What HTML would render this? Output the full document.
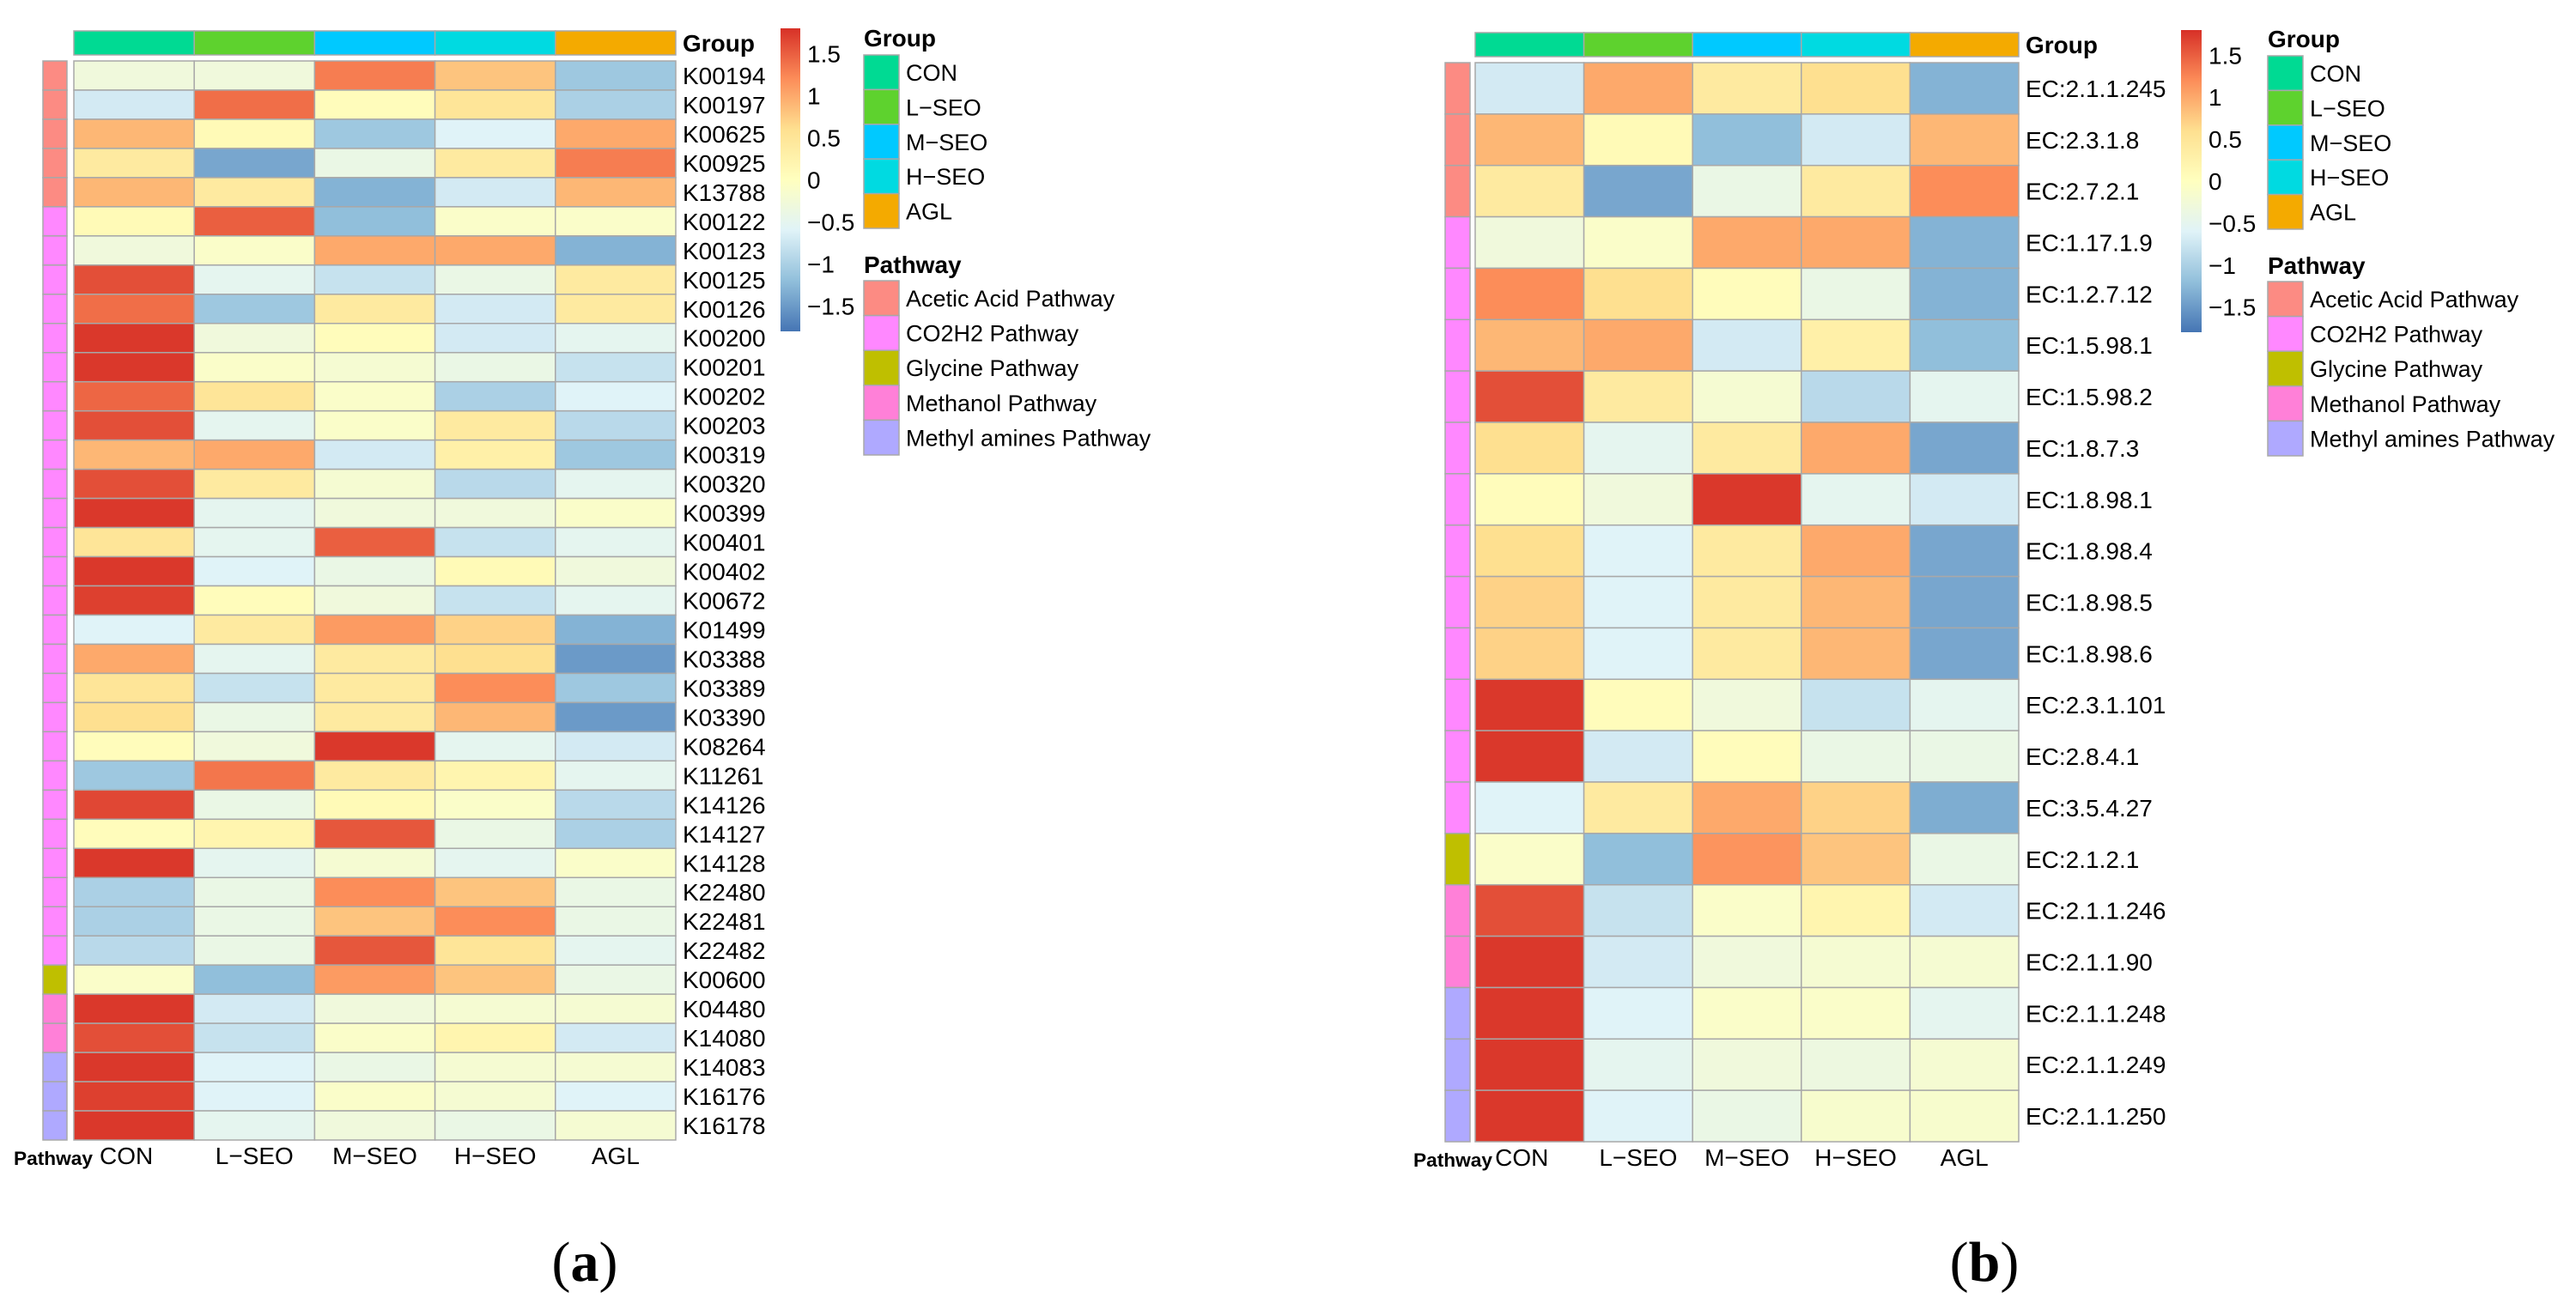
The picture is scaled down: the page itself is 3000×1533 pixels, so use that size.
<!DOCTYPE html>
<html><head><meta charset="utf-8"><style>
html,body{margin:0;padding:0;background:#fff;}
svg{display:block;font-family:"Liberation Sans",sans-serif;}
</style></head><body>
<svg id="fig" width="3000" height="1533" viewBox="0 0 3000 1533" xmlns="http://www.w3.org/2000/svg">
<defs>
<linearGradient id="cbar" x1="0" y1="1" x2="0" y2="0">
<stop offset="0" stop-color="#4575B4"/><stop offset="0.1667" stop-color="#91BFDB"/><stop offset="0.3333" stop-color="#E0F3F8"/><stop offset="0.5" stop-color="#FFFFBF"/><stop offset="0.6667" stop-color="#FEE090"/><stop offset="0.8333" stop-color="#FC8D59"/><stop offset="1" stop-color="#D73027"/>
</linearGradient>
</defs>
<text x="681" y="1492" text-anchor="middle" font-family="Liberation Serif,serif" font-size="66">(<tspan font-weight="bold">a</tspan>)</text>
<text x="2311" y="1492" text-anchor="middle" font-family="Liberation Serif,serif" font-size="66">(<tspan font-weight="bold">b</tspan>)</text>
</svg>
<script>
const groups = ["CON","L-SEO","M-SEO","H-SEO","AGL"];
const groupColors = ["#00DA93","#5ED22E","#00C9FF","#00DAE1","#F4AA00"];
const pathways = ["Acetic Acid Pathway","CO2H2 Pathway","Glycine Pathway","Methanol Pathway","Methyl amines Pathway"];
const pathwayColors = ["#FC8B83","#FF88FF","#BFBF00","#FF80D8","#AFA9FF"];
const colorTicks = [1.5,1,0.5,0,-0.5,-1,-1.5];

const rowsA = ["K00194","K00197","K00625","K00925","K13788","K00122","K00123","K00125","K00126","K00200","K00201","K00202","K00203","K00319","K00320","K00399","K00401","K00402","K00672","K01499","K03388","K03389","K03390","K08264","K11261","K14126","K14127","K14128","K22480","K22481","K22482","K00600","K04480","K14080","K14083","K16176","K16178"];
const pathA = [0,0,0,0,0,1,1,1,1,1,1,1,1,1,1,1,1,1,1,1,1,1,1,1,1,1,1,1,1,1,1,2,3,3,4,4,4];
const valuesA = [
[-0.3,-0.3,1.3,0.8,-1.1],[-0.7,1.4,0.05,0.5,-1.0],[0.9,0.1,-1.1,-0.6,1.0],[0.4,-1.4,-0.4,0.4,1.3],[0.9,0.4,-1.3,-0.7,0.9],
[0.1,1.5,-1.2,-0.1,-0.1],[-0.3,-0.1,1.0,1.0,-1.3],[1.6,-0.5,-0.8,-0.4,0.4],[1.4,-1.1,0.4,-0.7,0.4],[1.75,-0.3,0.05,-0.7,-0.5],
[1.75,-0.1,-0.2,-0.4,-0.8],[1.45,0.5,-0.1,-1.0,-0.6],[1.6,-0.5,-0.1,0.4,-0.9],[0.9,1.0,-0.7,0.3,-1.1],[1.6,0.4,-0.2,-0.9,-0.5],
[1.75,-0.5,-0.3,-0.3,-0.1],[0.5,-0.5,1.5,-0.8,-0.5],[1.75,-0.6,-0.4,0.1,-0.3],[1.7,0.05,-0.3,-0.8,-0.5],[-0.6,0.4,1.1,0.7,-1.3],
[1.0,-0.5,0.4,0.6,-1.5],[0.5,-0.8,0.4,1.2,-1.1],[0.6,-0.4,0.4,0.9,-1.5],[0.05,-0.3,1.75,-0.5,-0.7],[-1.1,1.35,0.4,0.2,-0.5],
[1.65,-0.4,0.1,-0.1,-0.9],[0.05,0.2,1.55,-0.4,-1.0],[1.75,-0.5,-0.2,-0.5,-0.1],[-1.0,-0.4,1.2,0.8,-0.4],[-1.0,-0.4,0.8,1.2,-0.4],
[-0.9,-0.4,1.55,0.5,-0.5],[-0.1,-1.2,1.1,0.8,-0.4],[1.75,-0.7,-0.3,-0.2,-0.2],[1.6,-0.8,-0.1,0.2,-0.7],[1.75,-0.6,-0.4,-0.2,-0.2],
[1.7,-0.6,-0.1,-0.2,-0.6],[1.75,-0.5,-0.3,-0.4,-0.2]];

const rowsB = ["EC:2.1.1.245","EC:2.3.1.8","EC:2.7.2.1","EC:1.17.1.9","EC:1.2.7.12","EC:1.5.98.1","EC:1.5.98.2","EC:1.8.7.3","EC:1.8.98.1","EC:1.8.98.4","EC:1.8.98.5","EC:1.8.98.6","EC:2.3.1.101","EC:2.8.4.1","EC:3.5.4.27","EC:2.1.2.1","EC:2.1.1.246","EC:2.1.1.90","EC:2.1.1.248","EC:2.1.1.249","EC:2.1.1.250"];
const pathB = [0,0,0,1,1,1,1,1,1,1,1,1,1,1,1,2,3,3,4,4,4];
const valuesB = [
[-0.7,1.0,0.4,0.6,-1.3],[0.9,0.1,-1.2,-0.7,0.9],[0.4,-1.4,-0.4,0.4,1.2],[-0.3,-0.1,1.0,1.0,-1.3],[1.2,0.6,0.05,-0.4,-1.3],
[0.9,1.0,-0.7,0.3,-1.2],[1.6,0.4,-0.2,-0.9,-0.5],[0.6,-0.5,0.4,1.0,-1.4],[0.05,-0.3,1.75,-0.5,-0.7],[0.6,-0.6,0.4,1.0,-1.4],
[0.7,-0.6,0.4,0.9,-1.4],[0.7,-0.6,0.4,0.9,-1.4],[1.75,0.05,-0.3,-0.8,-0.5],[1.75,-0.7,0.05,-0.4,-0.4],[-0.6,0.4,1.0,0.7,-1.35],
[-0.1,-1.2,1.15,0.8,-0.4],[1.6,-0.8,-0.1,0.2,-0.7],[1.75,-0.7,-0.3,-0.2,-0.2],[1.75,-0.6,-0.1,-0.1,-0.5],[1.75,-0.5,-0.3,-0.35,-0.2],
[1.75,-0.6,-0.4,-0.15,-0.15]];

const NS="http://www.w3.org/2000/svg";
const svg=document.getElementById('fig');
const pal=[[69,117,180],[145,191,219],[224,243,248],[255,255,191],[254,224,144],[252,141,89],[215,48,39]];
function colorOf(v){
  let t=(v+1.8)/3.6; t=Math.max(0,Math.min(1,t))*6;
  let i=Math.min(5,Math.floor(t)), f=t-i;
  const a=pal[i],b=pal[i+1];
  return `rgb(${Math.round(a[0]+(b[0]-a[0])*f)},${Math.round(a[1]+(b[1]-a[1])*f)},${Math.round(a[2]+(b[2]-a[2])*f)})`;
}
function mk(tag,attrs,parent){const e=document.createElementNS(NS,tag);for(const k in attrs)e.setAttribute(k,attrs[k]);(parent||svg).appendChild(e);return e;}
function txt(x,y,s,attrs,parent){const e=mk('text',Object.assign({x:x,y:y,'font-size':28,fill:'#000'},attrs||{}),parent);e.textContent=s;return e;}

function panel(cfg){
  const g=mk('g',{});
  
  
  const cw=(cfg.x1-cfg.x0)/groups.length;
  const n=cfg.rows.length; const rh=(cfg.yb-cfg.y0)/n;
  groups.forEach((gname,j)=>{
    const r=mk('rect',{x:cfg.x0+j*cw,y:cfg.gy0,width:cw,height:cfg.gy1-cfg.gy0,fill:groupColors[j],stroke:'#A8A8A8','stroke-width':1.5},g);
    
    
  });
  const gl=txt(cfg.x1+8,cfg.gy1-4,'Group',{'font-weight':'bold'},g);
  
  
  cfg.rows.forEach((rn,i)=>{
    const y=cfg.y0+i*rh;
    const p=mk('rect',{x:cfg.px0,y:y,width:cfg.px1-cfg.px0,height:rh,fill:pathwayColors[cfg.path[i]],stroke:'#A8A8A8','stroke-width':1.5},g);
    
    
    cfg.vals[i].forEach((v,j)=>{
      const c=mk('rect',{x:cfg.x0+j*cw,y:y,width:cw,height:rh,fill:colorOf(v),stroke:'#A8A8A8','stroke-width':1.5},g);
      
      
    });
    const t=txt(cfg.x1+8,y+rh/2+10,rn,{},g);
    
    
  });
  groups.forEach((gname,j)=>{
    const off=(j===0)?-9:0;
    const t=txt(cfg.x0+j*cw+cw/2+off,cfg.yb+28,gname.replace('-','\u2212'),{'text-anchor':'middle'},g);
    
    
  });
  const pl=txt(cfg.plx,cfg.yb+29,'Pathway',{'font-weight':'bold','font-size':22,textLength:92,lengthAdjust:'spacingAndGlyphs'},g);
  
  
  const cb=mk('rect',{x:cfg.cbx,y:cfg.cby0,width:cfg.cbw,height:cfg.cby1-cfg.cby0,fill:'url(#cbar)'},g);
  
  
  const vscale=(cfg.cby1-cfg.cby0)/3.6;
  colorTicks.forEach(v=>{
    const y=cfg.cby0+(1.8-v)*vscale;
    const t=txt(cfg.cbx+cfg.cbw+8,y+10,(v<0?'\u2212':'')+Math.abs(v),{},g);
    
    
  });
  const lx=cfg.lx, sw=41;
  const lt=txt(lx,cfg.lgy+10,'Group',{'font-weight':'bold'},g);
  
  
  groups.forEach((gname,j)=>{
    const y=cfg.lgy+20+j*40.4;
    const r=mk('rect',{x:lx,y:y,width:sw,height:40.4,fill:groupColors[j],stroke:'#A8A8A8','stroke-width':1.5},g);
    
    
    const t=txt(lx+sw+8,y+30,gname.replace('-','\u2212'),{'font-size':27},g);
    
    
  });
  const pt=txt(lx,cfg.lpy+10,'Pathway',{'font-weight':'bold'},g);
  
  
  pathways.forEach((pn,j)=>{
    const y=cfg.lpy+19+j*40.6;
    const r=mk('rect',{x:lx,y:y,width:sw,height:40.6,fill:pathwayColors[j],stroke:'#A8A8A8','stroke-width':1.5},g);
    
    
    const t=txt(lx+sw+8,y+30,pn,{'font-size':27},g);
    
    
  });
}
panel({name:'heatmap-a',rows:rowsA,vals:valuesA,path:pathA,x0:86,x1:787,y0:71,yb:1328,gy0:36,gy1:64,px0:50,px1:78,plx:16,
  cbx:909,cbw:23,cby0:33,cby1:386,lx:1006,lgy:44,lpy:308});
panel({name:'heatmap-b',rows:rowsB,vals:valuesB,path:pathB,x0:1718,x1:2351,y0:73,yb:1330,gy0:38,gy1:66,px0:1683,px1:1712,plx:1646,
  cbx:2540,cbw:24,cby0:35,cby1:387,lx:2641,lgy:45,lpy:309});
</script>
</body></html>
